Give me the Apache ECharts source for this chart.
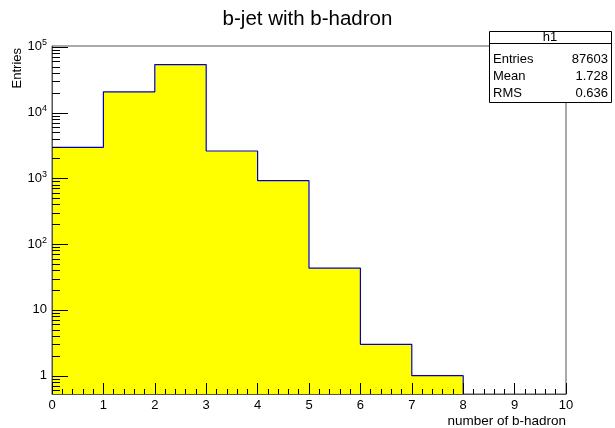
<!DOCTYPE html>
<html>
<head>
<meta charset="utf-8">
<script src="https://cdn.jsdelivr.net/npm/echarts@6/dist/echarts.min.js"></script>
<style>
  html, body { margin: 0; padding: 0; background: #fff; }
  #main { width: 615px; height: 428px; }
</style>
</head>
<body>
<div id="main"></div>
<script>
// histogram h1: bin low edges and contents
const binLow = [0, 1, 2, 3, 4, 5, 6, 7, 8, 9]
const counts = [2960, 20600, 53500, 2600, 920, 43, 3, 1, 0, 0]
const statNames = ['Entries', 'Mean', 'RMS']
const statValues = ['87603', '1.728', '0.636']

const yMin = 0.527
const yMax = 102500
const font = '"Liberation Sans", Arial, Helvetica, sans-serif'

// step outline points (left edge of each filled bin, then close at right edge)
let stepData = []
let lastBin = -1
for (let i = 0; i < counts.length; i++) {
  if (counts[i] > 0) {
    stepData.push([binLow[i], counts[i]])
    lastBin = i
  }
}
stepData.push([binLow[lastBin] + 1, counts[lastBin]])
stepData.push([binLow[lastBin] + 1, yMin])

// minor ticks on the log axis: 2..9 x 10^k inside the range
let minorVals = []
for (let k = -1; k <= 5; k++) {
  for (let m = 2; m <= 9; m++) {
    let v = m * Math.pow(10, k)
    if (v > yMin && v < yMax) minorVals.push([0, v])
  }
}

const supDigits = { 2: '2', 3: '3', 4: '4', 5: '5' }

let myChart = echarts.init(document.getElementById('main'))
myChart.setOption({
  backgroundColor: '#fff',
  animation: false,
  title: {
    text: 'b-jet with b-hadron',
    left: 'center',
    top: 4,
    textStyle: { fontFamily: font, fontSize: 20.5, fontWeight: 'normal', color: '#000' }
  },
  grid: {
    left: 52,
    right: 49,
    top: 46,
    bottom: 34,
    show: true,
    borderColor: '#555',
    borderWidth: 1,
    backgroundColor: '#fff'
  },
  xAxis: {
    type: 'value',
    min: 0,
    max: 10,
    interval: 1,
    z: 5,
    splitLine: { show: false },
    axisLine: { show: true, lineStyle: { color: '#555', width: 1 } },
    axisTick: { show: true, inside: true, length: 11, lineStyle: { color: '#000' } },
    minorTick: { show: true, splitNumber: 5, length: 5, lineStyle: { color: '#000' } },
    axisLabel: { color: '#000', fontFamily: font, fontSize: 13, margin: 5 },
    name: 'number of b-hadron',
    nameLocation: 'end',
    nameGap: 0,
    nameTextStyle: {
      color: '#000', fontFamily: font, fontSize: 13.5,
      align: 'right', verticalAlign: 'top', padding: [20, 0, 0, 0]
    }
  },
  yAxis: {
    type: 'log',
    logBase: 10,
    min: yMin,
    max: yMax,
    z: 5,
    splitLine: { show: false },
    axisLine: { show: true, lineStyle: { color: '#555', width: 1 } },
    axisTick: { show: false },
    axisLabel: {
      color: '#000', fontFamily: font, fontSize: 13, margin: 5,
      showMinLabel: false, showMaxLabel: false,
      formatter: function (v) {
        let e = Math.log10(v)
        let k = Math.round(e)
        if (Math.abs(e - k) > 1e-6) return ''
        if (k === 0) return '1'
        if (k === 1) return '10'
        return '10{sup|' + supDigits[k] + '}'
      },
      rich: {
        sup: { fontFamily: font, fontSize: 9, verticalAlign: 'bottom', padding: [0, 0, 8, 0], color: '#000' }
      }
    }
  },
  graphic: [
    {
      type: 'text',
      x: 17,
      y: 48,
      rotation: Math.PI / 2,
      style: { text: 'Entries', font: '13px ' + font, fill: '#000', align: 'right', verticalAlign: 'middle' }
    },
    {
      type: 'group',
      children: [
        { type: 'rect', shape: { x: 489.5, y: 31.5, width: 122, height: 71 }, style: { fill: '#fff', stroke: '#000', lineWidth: 1 }, z: 10 },
        { type: 'line', shape: { x1: 489.5, y1: 43.5, x2: 611.5, y2: 43.5 }, style: { stroke: '#000', lineWidth: 1 }, z: 11 },
        { type: 'text', x: 550, y: 37.5, style: { text: 'h1', font: '13px ' + font, fill: '#000', align: 'center', verticalAlign: 'middle' }, z: 11 },
        { type: 'text', x: 493, y: 59, style: { text: statNames[0], font: '13px ' + font, fill: '#000', verticalAlign: 'middle' }, z: 11 },
        { type: 'text', x: 608, y: 59, style: { text: statValues[0], font: '13px ' + font, fill: '#000', align: 'right', verticalAlign: 'middle' }, z: 11 },
        { type: 'text', x: 493, y: 76, style: { text: statNames[1], font: '13px ' + font, fill: '#000', verticalAlign: 'middle' }, z: 11 },
        { type: 'text', x: 608, y: 76, style: { text: statValues[1], font: '13px ' + font, fill: '#000', align: 'right', verticalAlign: 'middle' }, z: 11 },
        { type: 'text', x: 493, y: 93, style: { text: statNames[2], font: '13px ' + font, fill: '#000', verticalAlign: 'middle' }, z: 11 },
        { type: 'text', x: 608, y: 93, style: { text: statValues[2], font: '13px ' + font, fill: '#000', align: 'right', verticalAlign: 'middle' }, z: 11 }
      ]
    }
  ],
  series: [
    {
      name: 'h1',
      type: 'line',
      step: 'end',
      data: stepData,
      showSymbol: false,
      symbol: 'none',
      lineStyle: { color: '#0000cc', width: 1.2 },
      areaStyle: { color: '#ffff00', opacity: 1, origin: 'start' },
      z: 2
    },
    {
      name: 'yticks',
      type: 'custom',
      z: 6,
      silent: true,
      data: minorVals.concat([0, 1, 2, 3, 4, 5].map(k => [0, Math.pow(10, k)])),
      renderItem: function (params, api) {
        let v = api.value(1)
        let p = api.coord([0, v])
        let e = Math.log10(v)
        let major = Math.abs(e - Math.round(e)) < 1e-6
        let y = Math.round(p[1]) + 0.5
        return {
          type: 'line',
          shape: { x1: p[0], y1: y, x2: p[0] + (major ? 16 : 8), y2: y },
          style: { stroke: '#000', lineWidth: 1 }
        }
      }
    }
  ]
})
</script>
</body>
</html>
